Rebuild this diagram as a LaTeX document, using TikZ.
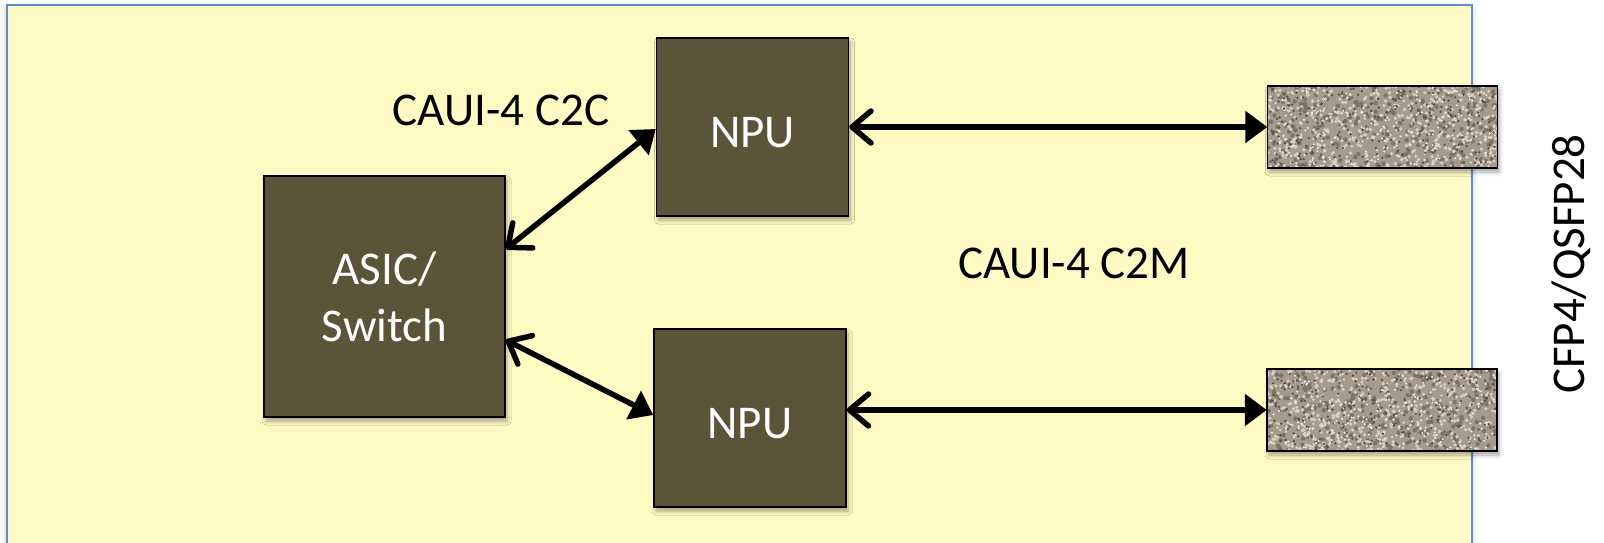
\documentclass[tikz,border=0pt]{standalone}
\usepackage{fontspec}
\setmainfont{Carlito}
\usetikzlibrary{arrows.meta,shadows.blur}
\definecolor{paper}{HTML}{FFF9C4}
\definecolor{frameblue}{RGB}{91,143,208}
\definecolor{chipfill}{HTML}{5C5438}
\definecolor{granite}{HTML}{A69A8D}
\definecolor{granlight}{HTML}{D9D0C5}
\definecolor{granwhite}{HTML}{EFEAE3}
\definecolor{grandark}{HTML}{5A4F45}
\definecolor{granmid}{HTML}{7E7266}
\tikzset{
  chip/.style={draw=black, line width=1.5pt, fill=chipfill, text=white, inner sep=0pt,
    font=\fontsize{47}{57}\selectfont, align=center,
    blur shadow={shadow xshift=2pt, shadow yshift=-4pt, shadow blur radius=4pt, shadow opacity=35}},
  module/.style={fill=granite, inner sep=0pt, minimum width=230pt, minimum height=82pt,
    blur shadow={shadow xshift=2pt, shadow yshift=-4pt, shadow blur radius=4pt, shadow opacity=35}},
  lbl/.style={font=\fontsize{47}{57}\selectfont, text=black, inner sep=0pt},
  link/.style={line width=5.5pt, draw=black,
    {Straight Barb[length=19pt,width=32pt,round]}-{Triangle[length=22pt,width=31pt]}}
}
\begin{document}
\begin{tikzpicture}[x=1pt,y=-1pt]
\useasboundingbox (0,0) rectangle (1604,543);
% board
\path[draw=frameblue, line width=2pt, fill=paper,
  blur shadow={shadow xshift=0pt, shadow yshift=-3pt, shadow blur radius=5pt, shadow opacity=30}]
  (7,5) rectangle (1472,546);
% chips
\node[chip, minimum width=241pt, minimum height=241pt] (asic) at (384.5,296.5) {ASIC/\\Switch};
\node[chip, minimum width=192pt, minimum height=178pt, text height=40pt, text depth=0pt] (npu1) at (752.5,127) {NPU};
\node[chip, minimum width=192pt, minimum height=178pt, text height=40pt, text depth=0pt] (npu2) at (750,418) {NPU};
% modules
\node[module] (mod1) at (1382.5,127) {};
\node[module] (mod2) at (1382,410) {};
\pgfmathsetseed{42}
\foreach \m/\cx/\cy in {mod1/1382.5/127, mod2/1382/410}{
  \begin{scope}
    \clip (\m.south west) rectangle (\m.north east);
    \foreach \i in {1,...,260}{
      \fill[granmid] (\cx-115+230*rnd, \cy-41+82*rnd) circle (2.2pt);
    }
    \foreach \i in {1,...,420}{
      \fill[granlight] (\cx-115+230*rnd, \cy-41+82*rnd) circle (1.8pt);
    }
    \foreach \i in {1,...,260}{
      \fill[grandark] (\cx-115+230*rnd, \cy-41+82*rnd) circle (1.3pt);
      \fill[granwhite] (\cx-115+230*rnd, \cy-41+82*rnd) circle (1.1pt);
    }
  \end{scope}
  \draw[line width=1.5pt] (\m.south west) rectangle (\m.north east);
}
% links
\draw[link] ([yshift=47.5pt]asic.east) -- ([yshift=-2pt]npu1.west);
\draw[link] ([yshift=-43.5pt]asic.east) -- ([yshift=3pt]npu2.west);
\draw[link] (npu1.east) -- (mod1.west);
\draw[link] (npu2.east |- mod2.west) -- (mod2.west);
% labels
\node[lbl, anchor=base] (c2c) at (501,125) {CAUI-4 C2C};
\node[lbl, anchor=base] (c2m) at (1074,278) {CAUI-4 C2M};
\node[lbl, rotate=90] (cfp) at (1571,264) {CFP4/QSFP28};
\end{tikzpicture}
\end{document}
